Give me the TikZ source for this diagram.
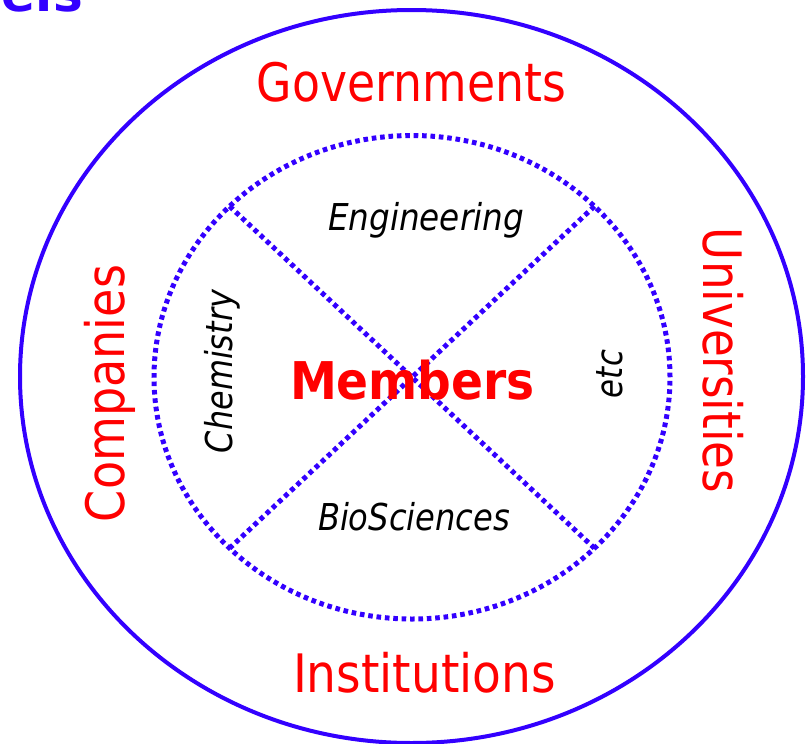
\documentclass[tikz,border=0pt]{standalone}
\usepackage{fontspec}
\setmainfont{DejaVu Sans}
\usepackage{graphicx}
\definecolor{ringblue}{HTML}{3300FF}
\definecolor{labelred}{HTML}{FF0000}
\newcommand{\fitw}[2]{\resizebox{#1}{\height}{#2}}
\begin{document}
\begin{tikzpicture}[x=1pt,y=-1pt,
  outerlabel/.style={text=labelred, inner sep=0pt, anchor=base, font=\fontsize{53}{60}\selectfont},
  fieldlabel/.style={text=black, inner sep=0pt, anchor=base, font=\fontsize{37}{42}\selectfont\itshape},
  centerlabel/.style={text=labelred, inner sep=0pt, anchor=base, font=\fontsize{52}{60}\selectfont\bfseries},
  titlelabel/.style={text=ringblue, inner sep=0pt, anchor=base east, font=\fontsize{50}{60}\selectfont\bfseries},
  outerring/.style={draw=ringblue, line width=4pt},
  innerring/.style={draw=ringblue, line width=5pt, dash pattern=on 4.6pt off 3.8pt},
]
\useasboundingbox (0,0) rectangle (811,744);
\fill[white] (0,0) rectangle (811,744);

% rings
\draw[outerring] (411.5,376.5) ellipse [x radius=391.5pt, y radius=366.5pt];
\draw[innerring] (412,377.25) ellipse [x radius=258pt, y radius=241.75pt];

% diagonal end points on the dotted ring
\coordinate (ul) at (229.6,206.3);
\coordinate (lr) at (594.4,548.2);
\coordinate (ur) at (594.4,206.3);
\coordinate (ll) at (229.6,548.2);
\draw[innerring] (ul) -- (lr);
\draw[innerring] (ur) -- (ll);

% title fragment
\node[titlelabel] (title) at (83,12) {els};

% outer labels
\node[outerlabel] (gov) at (411.5,101) {\fitw{309pt}{Governments}};
\node[outerlabel] (inst) at (424.5,692) {\fitw{263pt}{Institutions}};
\node[outerlabel, rotate=90] (comp) at (124,393.5) {\fitw{257pt}{Companies}};
\node[outerlabel, rotate=-90] (univ) at (703,360.5) {\fitw{265pt}{Universities}};

% centre
\node[centerlabel] (mem) at (412.5,399) {\fitw{245pt}{Members}};

% fields
\node[fieldlabel] (eng) at (426,230) {\fitw{196pt}{Engineering}};
\node[fieldlabel] (bio) at (414,530) {\fitw{192pt}{BioSciences}};
\node[fieldlabel, rotate=90] (chem) at (232,371.5) {\fitw{163pt}{Chemistry}};
\node[fieldlabel, rotate=90] (etc) at (622,374) {\fitw{48pt}{etc}};
\end{tikzpicture}
\end{document}
